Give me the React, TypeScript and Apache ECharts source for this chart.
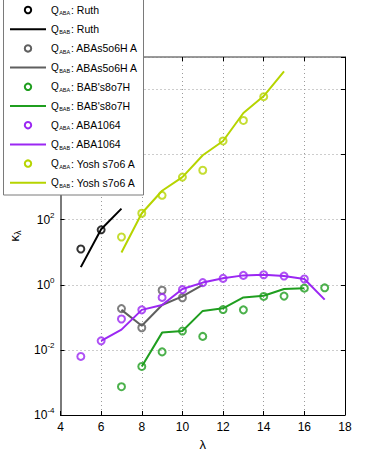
import React, { useEffect, useRef } from "react";
import * as echarts from "echarts";

// ---- data (λ values and κ_λ values) ----
const datasetNames = ["Ruth", "ABAs5o6H A", "BAB's8o7H", "ABA1064", "Yosh s7o6 A"];
const datasetColors = ["#000000", "#5f5f5f", "#1f9e1f", "#9b27f3", "#b6d400"];

const ruthAbaLambda = [5, 6];
const ruthAbaKappa = [12.6, 49];
const ruthBabLambda = [5, 6, 7];
const ruthBabKappa = [3.5, 51, 219];

const s5o6AbaLambda = [7, 8, 9, 10];
const s5o6AbaKappa = [0.186, 0.048, 0.68, 0.4];
const s5o6BabLambda = [7, 8, 9, 10, 11];
const s5o6BabKappa = [0.17, 0.055, 0.24, 0.44, 1.0];

const s8o7AbaLambda = [7, 8, 9, 10, 11, 12, 13, 14, 15, 16, 17];
const s8o7AbaKappa = [0.00074, 0.0031, 0.0087, 0.038, 0.026, 0.174, 0.17, 0.44, 0.45, 0.79, 0.81];
const s8o7BabLambda = [8, 9, 10, 11, 12, 13, 14, 15, 16];
const s8o7BabKappa = [0.0031, 0.034, 0.038, 0.158, 0.19, 0.41, 0.46, 0.74, 0.79];

const aba1064AbaLambda = [5, 6, 7, 8, 9, 10, 11, 12, 13, 14, 15, 16];
const aba1064AbaKappa = [0.0063, 0.019, 0.089, 0.17, 0.41, 0.71, 1.17, 1.58, 1.95, 2.04, 1.86, 1.51];
const aba1064BabLambda = [6, 7, 8, 9, 10, 11, 12, 13, 14, 15, 16, 17];
const aba1064BabKappa = [0.019, 0.042, 0.17, 0.24, 0.74, 1.17, 1.58, 1.95, 2.04, 1.86, 1.51, 0.35];

const yoshAbaLambda = [7, 8, 9, 10, 11, 12, 13, 14];
const yoshAbaKappa = [29.5, 158, 562, 2042, 3311, 26300, 112200, 602600];
const yoshBabLambda = [7, 8, 9, 10, 11, 12, 13, 14, 15];
const yoshBabKappa = [9.8, 158, 776, 2042, 9550, 26300, 190500, 631000, 3600000];

const abaData = [
  [ruthAbaLambda, ruthAbaKappa],
  [s5o6AbaLambda, s5o6AbaKappa],
  [s8o7AbaLambda, s8o7AbaKappa],
  [aba1064AbaLambda, aba1064AbaKappa],
  [yoshAbaLambda, yoshAbaKappa],
];
const babData = [
  [ruthBabLambda, ruthBabKappa],
  [s5o6BabLambda, s5o6BabKappa],
  [s8o7BabLambda, s8o7BabKappa],
  [aba1064BabLambda, aba1064BabKappa],
  [yoshBabLambda, yoshBabKappa],
];

const xMin = 4;
const xMax = 18;
const xStep = 2;
const yMin = 1e-4;
const yMax = 1e7;
// tick labels above this exponent lie under the legend box and are not visible
const yMaxVisibleLabelExp = 2;

const FONT = "'Liberation Sans', Arial, Helvetica, sans-serif";

function pairs(xs: number[], ys: number[]) {
  return xs.map((x, i) => [x, ys[i]]);
}

export default function App() {
  const ref = useRef<HTMLDivElement>(null);
  useEffect(() => {
    if (!ref.current) return;
    const chart = echarts.init(ref.current, undefined, { renderer: "svg" });

    const series: any[] = [];
    datasetNames.forEach((name, i) => {
      const c = datasetColors[i];
      series.push({
        name: "ABA: " + name,
        type: "scatter",
        xAxisIndex: 0,
        yAxisIndex: 0,
        symbol: "circle",
        symbolSize: 7,
        itemStyle: { color: "rgba(0,0,0,0)", borderColor: c, borderWidth: 2 },
        data: pairs(abaData[i][0], abaData[i][1]),
        z: 3,
      });
      series.push({
        name: "BAB: " + name,
        type: "line",
        xAxisIndex: 0,
        yAxisIndex: 0,
        showSymbol: false,
        lineStyle: { color: c, width: 2 },
        itemStyle: { color: c },
        data: pairs(babData[i][0], babData[i][1]),
        z: 2,
      });
    });

    // legend drawn as graphic elements
    const legendEls: any[] = [];
    legendEls.push({
      type: "rect",
      shape: { x: 3.5, y: -5, width: 140, height: 200 },
      style: { fill: "#ffffff", stroke: "#7a7a7a", lineWidth: 1 },
      z: 100,
    });
    const rowY0 = 10;
    const rowDy = 19.2;
    let row = 0;
    datasetNames.forEach((name, i) => {
      const c = datasetColors[i];
      ["ABA", "BAB"].forEach((kind) => {
        const y = rowY0 + row * rowDy;
        if (kind === "ABA") {
          legendEls.push({
            type: "circle",
            shape: { cx: 28, cy: y, r: 3.2 },
            style: { fill: "none", stroke: c, lineWidth: 2 },
            z: 101,
          });
        } else {
          legendEls.push({
            type: "line",
            shape: { x1: 10, y1: y, x2: 46, y2: y },
            style: { stroke: c, lineWidth: 2 },
            z: 101,
          });
        }
        legendEls.push({
          type: "text",
          x: 51,
          y: y,
          style: {
            text: "Q",
            fill: "#000",
            fontFamily: FONT,
            fontSize: 10,
            align: "left",
            verticalAlign: "middle",
          },
          z: 101,
        });
        legendEls.push({
          type: "text",
          x: 59.2,
          y: y + 3.2,
          style: {
            text: kind,
            fill: "#000",
            fontFamily: FONT,
            fontSize: 5.5,
            align: "left",
            verticalAlign: "middle",
          },
          z: 101,
        });
        legendEls.push({
          type: "text",
          x: 71,
          y: y,
          style: {
            text: ": " + name,
            fill: "#000",
            fontFamily: FONT,
            fontSize: 10.5,
            align: "left",
            verticalAlign: "middle",
          },
          z: 101,
        });
        row++;
      });
    });

    const yLabelFormatter = (v: number) => {
      const e = Math.round(Math.log10(v));
      if (e > yMaxVisibleLabelExp) return "";
      return `{b|10}{e|${e}}`;
    };

    chart.setOption({
      animation: false,
      backgroundColor: "#ffffff",
      textStyle: { fontFamily: FONT },
      grid: { left: 59, right: 36, top: 57, bottom: 41, containLabel: false },
      xAxis: [
        {
          type: "value",
          position: "bottom",
          min: xMin,
          max: xMax,
          interval: xStep,
          name: "λ",
          nameLocation: "middle",
          nameGap: 20,
          nameTextStyle: { fontSize: 13, color: "#000", fontFamily: FONT },
          axisLine: { show: true, onZero: false, lineStyle: { color: "#000", width: 1 } },
          axisTick: { show: true, inside: true, length: 4, lineStyle: { color: "#000" } },
          axisLabel: { fontSize: 12, color: "#000", margin: 6, fontFamily: FONT },
          splitLine: { show: true, lineStyle: { color: "#9a9a9a", type: [1, 3], width: 1 } },
        },
        {
          type: "value",
          position: "top",
          min: xMin,
          max: xMax,
          interval: xStep,
          axisLine: { show: true, onZero: false, lineStyle: { color: "#7a7a7a", width: 1.5 } },
          axisTick: { show: true, inside: true, length: 4, lineStyle: { color: "#000" } },
          axisLabel: { show: false },
          splitLine: { show: false },
        },
      ],
      yAxis: [
        {
          type: "log",
          logBase: 10,
          position: "left",
          min: yMin,
          max: yMax,
          interval: 2,
          name: "{k|κ}{s|λ}",
          nameLocation: "middle",
          nameGap: 38,
          nameRotate: 90,
          nameTextStyle: {
            color: "#000",
            fontFamily: FONT,
            rich: {
              k: { fontSize: 13, fontFamily: FONT, color: "#000" },
              s: { fontSize: 9, fontFamily: FONT, color: "#000", padding: [7, 0, 0, 0] },
            },
          },
          axisLine: { show: true, onZero: false, lineStyle: { color: "#7a7a7a", width: 2 } },
          axisTick: { show: true, inside: true, length: 4, lineStyle: { color: "#000" } },
          minorTick: { show: false },
          axisLabel: {
            formatter: yLabelFormatter,
            margin: 6,
            color: "#000",
            rich: {
              b: { fontSize: 12, fontFamily: FONT, color: "#000" },
              e: { fontSize: 8, fontFamily: FONT, color: "#000", padding: [0, 0, 9, 0] },
            },
          },
          splitLine: { show: true, lineStyle: { color: "#9a9a9a", type: [1, 3], width: 1 } },
        },
        {
          type: "log",
          logBase: 10,
          position: "right",
          min: yMin,
          max: yMax,
          interval: 2,
          axisLine: { show: true, onZero: false, lineStyle: { color: "#000", width: 1 } },
          axisTick: { show: true, inside: true, length: 4, lineStyle: { color: "#000" } },
          axisLabel: { show: false },
          splitLine: { show: false },
        },
      ],
      series,
      graphic: { elements: legendEls },
    });

    return () => chart.dispose();
  }, []);

  return (
    <div
      ref={ref}
      style={{ position: "fixed", left: 0, top: 0, width: 381, height: 456 }}
    />
  );
}
